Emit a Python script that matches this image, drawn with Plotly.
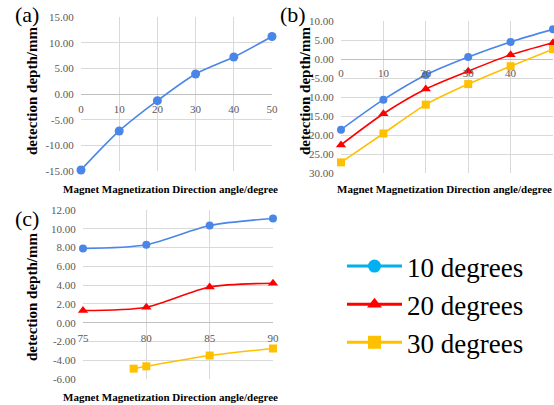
import plotly.graph_objects as go

# ---- data ----
angles_ab = [0, 10, 20, 30, 40, 50]
depth_a = [-14.8, -7.2, -1.3, 3.9, 7.2, 11.2]

depth_b_10 = [-18.6, -10.7, -4.2, 0.5, 4.5, 7.8]
depth_b_20 = [-22.6, -14.4, -7.9, -3.2, 1.1, 4.3]
depth_b_30 = [-27.2, -19.6, -12.0, -6.6, -1.9, 2.6]

angles_c = [75, 80, 85, 90]
depth_c_10 = [7.9, 8.3, 10.35, 11.1]
depth_c_20 = [1.3, 1.65, 3.8, 4.2]
angles_c_30 = [79, 80, 85, 90]
depth_c_30 = [-4.9, -4.65, -3.5, -2.75]

a_yticks = [-15, -10, -5, 0, 5, 10, 15]
a_yticktext = ["-15.00", "-10.00", "-5.00", "0.00", "5.00", "10.00", "15.00"]
b_yticks = [-30, -25, -20, -15, -10, -5, 0, 5, 10]
b_yticktext = ["30.00", "25.00", "20.00", "15.00", "10.00", "-5.00", "0.00", "5.00", "10.00"]
c_yticks = [-6, -4, -2, 0, 2, 4, 6, 8, 10, 12]
c_yticktext = ["-6.00", "-4.00", "-2.00", "0.00", "2.00", "4.00", "6.00", "8.00", "10.00", "12.00"]

legend_names = ["10 degrees", "20 degrees", "30 degrees"]
y_title = "detection depth/mm"
x_title = "Magnet Magnetization Direction angle/degree"
panel_labels = ["(a)", "(b)", "(c)"]

# ---- style ----
W, H = 554, 405
BLUE = "#4A86E8"
RED = "#FF0000"
YEL = "#FFC000"
LBLUE = "#00B0F0"
GRID = "#D9D9D9"
TICKC = "#595959"
FONT = "Liberation Serif, Times New Roman, serif"

def px(x):
    return x / W

def py(y):
    return 1 - y / H

fig = go.Figure()

def line(x, y, color, symbol, size, xa, ya):
    fig.add_trace(go.Scatter(
        x=x, y=y, mode="lines+markers", xaxis=xa, yaxis=ya,
        line=dict(color=color, width=1.6, shape="spline", smoothing=0.8),
        marker=dict(color=color, symbol=symbol, size=size),
        showlegend=False, cliponaxis=False))

line(angles_ab, depth_a, BLUE, "circle", 9, "x", "y")
line(angles_ab, depth_b_10, BLUE, "circle", 8, "x2", "y2")
line(angles_ab, depth_b_20, RED, "triangle-up", 9, "x2", "y2")
line(angles_ab, depth_b_30, YEL, "square", 8, "x2", "y2")
line(angles_c, depth_c_10, BLUE, "circle", 8, "x3", "y3")
line(angles_c, depth_c_20, RED, "triangle-up", 9, "x3", "y3")
line(angles_c_30, depth_c_30, YEL, "square", 8, "x3", "y3")

# legend-only entries
for i, (name, col, sym) in enumerate(zip(legend_names, [LBLUE, RED, YEL], ["circle", "triangle-up", "square"])):
    fig.add_trace(go.Scatter(
        x=[None], y=[None], mode="lines+markers", name=name, legendgroup="g%d" % i,
        line=dict(color=col, width=3), marker=dict(color=col, symbol=sym, size=13),
        xaxis="x", yaxis="y", showlegend=True))

tickfont = dict(family=FONT, size=11, color=TICKC)

def xaxis(dom, rng, dtick, zero_y):
    return dict(domain=dom, range=rng, dtick=dtick, tick0=rng[0], showgrid=True, gridcolor=GRID,
                gridwidth=1, zeroline=False, showline=False, anchor="free", position=zero_y,
                ticks="outside", ticklen=5, tickcolor="rgba(0,0,0,0)", tickfont=tickfont,
                fixedrange=True, automargin=False)

def yaxis(dom, rng, vals, text, xa):
    return dict(domain=dom, range=rng, tickvals=vals, ticktext=text, showgrid=True,
                gridcolor=GRID, gridwidth=1, zeroline=True, zerolinecolor="#BFBFBF",
                zerolinewidth=1, showline=False, anchor=xa, ticks="outside", ticklen=4,
                tickcolor="rgba(0,0,0,0)", tickfont=tickfont, fixedrange=True, automargin=False)

fig.update_layout(
    width=W, height=H, margin=dict(l=0, r=0, t=0, b=0, autoexpand=False),
    paper_bgcolor="white", plot_bgcolor="white",
    font=dict(family=FONT, color="black"),
    xaxis=xaxis([px(81), px(272)], [0, 50], 10, py(94)),
    yaxis=yaxis([py(171), py(17)], [-15, 15], a_yticks, a_yticktext, "x"),
    xaxis2=xaxis([px(341), px(553)], [0, 50], 10, py(58)),
    yaxis2=yaxis([py(173), py(21)], [-30, 10], b_yticks, b_yticktext, "x2"),
    xaxis3=xaxis([px(83), px(273)], [75, 90], 5, py(323)),
    yaxis3=yaxis([py(379), py(210)], [-6, 12], c_yticks, c_yticktext, "x3"),
    showlegend=True,
    legend=dict(x=px(342), y=py(242), xanchor="left", yanchor="top",
                font=dict(family=FONT, size=27, color="black"),
                bgcolor="rgba(0,0,0,0)", tracegroupgap=0, itemwidth=55),
)

ann = []
for (xc, yc) in [(32, 91), (305, 91), (32, 297)]:
    ann.append(dict(x=px(xc), y=py(yc), xref="paper", yref="paper", text="<b>" + y_title + "</b>",
                    xanchor="center", yanchor="middle",
                    textangle=-90, showarrow=False, font=dict(family=FONT, size=15, color="black")))
for (xc, yc) in [(170, 189), (444, 189), (170, 397)]:
    ann.append(dict(x=px(xc), y=py(yc), xref="paper", yref="paper", text="<b>" + x_title + "</b>",
                    xanchor="center", yanchor="middle",
                    showarrow=False, font=dict(family=FONT, size=11, color="black")))
for lab, (xc, yc) in zip(panel_labels, [(27, 15), (293, 15), (27, 218)]):
    ann.append(dict(x=px(xc), y=py(yc), xref="paper", yref="paper", text=lab,
                    xanchor="center", yanchor="middle",
                    showarrow=False, font=dict(family=FONT, size=22, color="black")))
fig.update_layout(annotations=ann)

fig.write_html("out.html", config={"displayModeBar": False},
               post_script="document.body.style.margin='0';")
